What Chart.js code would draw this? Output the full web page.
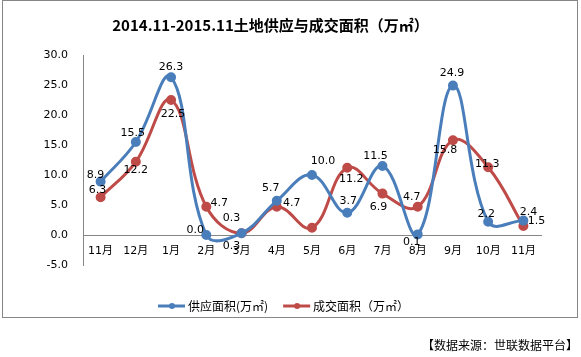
<!DOCTYPE html>
<html>
<head>
<meta charset="utf-8">
<script src="https://cdn.jsdelivr.net/npm/chart.js@4.4.1/dist/chart.umd.min.js"></script>
<style>
  html, body { margin: 0; padding: 0; background: #ffffff; }
  #wrap { position: relative; width: 581px; height: 357px; }
</style>
</head>
<body>
<div id="wrap"><canvas id="c" width="581" height="357"></canvas></div>
<script>
// ---- data ----
const categories = ['11月', '12月', '1月', '2月', '3月', '4月', '5月', '6月', '7月', '8月', '9月', '10月', '11月'];
const supplyArea = [8.9, 15.5, 26.3, 0.0, 0.3, 5.7, 10.0, 3.7, 11.5, 0.1, 24.9, 2.2, 2.4];
const dealArea   = [6.3, 12.2, 22.5, 4.7, 0.3, 4.7, 1.2, 11.2, 6.9, 4.7, 15.8, 11.3, 1.5];
const seriesNames = ['供应面积(万㎡)', '成交面积（万㎡）'];
const yTicks = [-5, 0, 5, 10, 15, 20, 25, 30];
const titleText = '2014.11-2015.11土地供应与成交面积（万㎡）';
const sourceText = '【数据来源：世联数据平台】';

// label placement (pixel offsets from each point; null = no label)
const supplyLabelOffsets = [[-5,-6],[-3,-9],[0,-10],[-11,-5],[-10,13],[-6,-13],[11,-14],[1,-12],[-7,-10],[-6,8],[-1,-12],[-2,-8],[5,-8]];
const dealLabelOffsets   = [[-3,-7],[0,8],[2,14],[13,-4],[-10,-15],[15,-4],null,[4,11],[-4,14],[-6,-10],[-8,10],[-1,-3],[13,-5]];

const BLUE = '#4A7EBB';
const RED = '#BE4B48';
const CJK = '"Noto Sans CJK SC", "DejaVu Sans", sans-serif';
const NUM = '"DejaVu Sans", "Noto Sans CJK SC", sans-serif';

const decorPlugin = {
  id: 'decor',
  beforeDraw(chart) {
    const ctx = chart.ctx;
    ctx.save();
    ctx.fillStyle = '#ffffff';
    ctx.fillRect(0, 0, chart.width, chart.height);
    ctx.strokeStyle = '#868686';
    ctx.lineWidth = 1;
    ctx.strokeRect(2.5, 0.5, 575, 317);
    ctx.restore();
  },
  afterDatasetsDraw(chart) {
    const ctx = chart.ctx;
    const offs = [supplyLabelOffsets, dealLabelOffsets];
    ctx.save();
    ctx.font = '11px ' + NUM;
    ctx.fillStyle = '#000000';
    ctx.textAlign = 'center';
    ctx.textBaseline = 'middle';
    chart.data.datasets.forEach((ds, di) => {
      const meta = chart.getDatasetMeta(di);
      meta.data.forEach((pt, i) => {
        const o = offs[di][i];
        if (!o) return;
        ctx.fillText(ds.data[i].toFixed(1), pt.x + o[0], pt.y + o[1]);
      });
    });
    ctx.restore();
  },
  afterDraw(chart) {
    const ctx = chart.ctx;
    ctx.save();
    // legend
    ctx.font = '12px ' + CJK;
    ctx.textBaseline = 'middle';
    ctx.textAlign = 'left';
    let x = 158;
    const y = 306;
    chart.data.datasets.forEach((ds) => {
      ctx.strokeStyle = ds.borderColor;
      ctx.lineWidth = 3;
      ctx.beginPath();
      ctx.moveTo(x, y);
      ctx.lineTo(x + 27, y);
      ctx.stroke();
      ctx.fillStyle = ds.borderColor;
      ctx.beginPath();
      ctx.arc(x + 14, y, 3, 0, Math.PI * 2);
      ctx.fill();
      ctx.fillStyle = '#000000';
      ctx.fillText(ds.label, x + 30, y);
      x += 30 + ctx.measureText(ds.label).width + 15;
    });
    // source
    ctx.font = '12px ' + CJK;
    ctx.textAlign = 'right';
    ctx.fillStyle = '#000000';
    ctx.fillText(sourceText, 578, 345);
    ctx.restore();
  }
};

new Chart(document.getElementById('c'), {
  type: 'line',
  data: {
    labels: categories,
    datasets: [
      { label: seriesNames[0], data: supplyArea, borderColor: BLUE, backgroundColor: BLUE,
        pointBackgroundColor: BLUE, pointBorderColor: BLUE, borderWidth: 3, pointRadius: 3.5,
        tension: 0.4, fill: false },
      { label: seriesNames[1], data: dealArea, borderColor: RED, backgroundColor: RED,
        pointBackgroundColor: RED, pointBorderColor: RED, borderWidth: 3, pointRadius: 3.5,
        tension: 0.4, fill: false }
    ]
  },
  options: {
    responsive: false,
    animation: false,
    devicePixelRatio: 1,
    layout: { padding: { left: 0, right: 40, top: 0, bottom: 92 } },
    plugins: {
      legend: { display: false },
      tooltip: { enabled: false },
      title: {
        display: true,
        text: titleText,
        color: '#000000',
        font: { family: CJK, size: 15, weight: 'bold', lineHeight: 1.2 },
        padding: { top: 16, bottom: 21 }
      }
    },
    scales: {
      x: {
        type: 'category',
        offset: true,
        position: { y: 0 },
        grid: { display: false, drawTicks: false },
        border: { display: true, color: '#868686', width: 1 },
        ticks: { color: '#000000', font: { family: NUM, size: 11 }, padding: 10, maxRotation: 0, autoSkip: false }
      },
      y: {
        min: -5,
        max: 30,
        afterFit(scale) { scale.width = 83; },
        afterBuildTicks(scale) { scale.ticks = yTicks.map(v => ({ value: v })); },
        grid: { display: false, drawTicks: false },
        border: { display: true, color: '#868686', width: 1 },
        ticks: {
          color: '#000000',
          font: { family: NUM, size: 11 },
          padding: 15,
          callback: (v) => Number(v).toFixed(1)
        }
      }
    }
  },
  plugins: [decorPlugin]
});
</script>
</body>
</html>
